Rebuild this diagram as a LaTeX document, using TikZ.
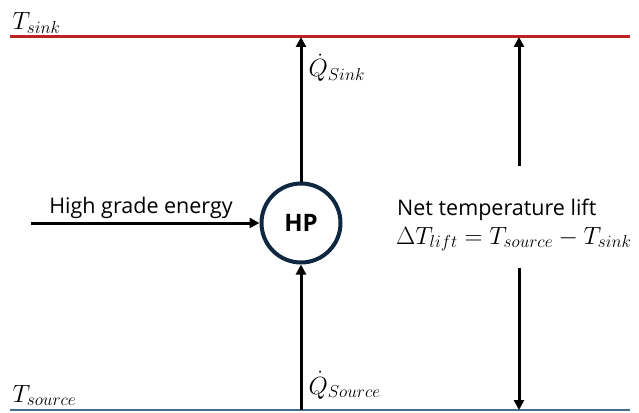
\documentclass[tikz,border=0pt]{standalone}
\usepackage{fontspec}
\setmainfont{Open Sans}
\usetikzlibrary{arrows.meta,positioning}
\definecolor{sinkred}{RGB}{192,34,34}
\definecolor{sourceblue}{RGB}{68,110,142}
\definecolor{hpnavy}{RGB}{14,40,65}

\begin{document}
\begin{tikzpicture}[x=1pt,y=-1pt,>={Triangle[length=10pt,width=10pt]},
 font=\fontsize{21.5}{26}\selectfont,
 flow/.style={->,line width=3pt},
 level/.style={line width=3pt},
 mathlbl/.style={font=\fontsize{25}{28}\selectfont}]
 \useasboundingbox (0,0) rectangle (639,412);
 % temperature levels
 \coordinate (sinkL) at (10,37); \coordinate (sinkR) at (630,37);
 \coordinate (srcL) at (10,410); \coordinate (srcR) at (630,410);
 \draw[level,sinkred] (sinkL)--(sinkR);
 \draw[level,sourceblue,line width=2pt] (srcL)--(srcR);
 \node[mathlbl,anchor=base west] (tsink) at (9,30) {$T_{sink}$};
 \node[mathlbl,anchor=base west] (tsource) at (9,402) {$T_{source}$};
 % heat pump
 \node[circle,draw=hpnavy,line width=4pt,minimum size=79pt,font=\fontsize{24}{28}\selectfont\bfseries] (hp) at (301,223) {HP};
 \draw[flow] (hp.north) -- (hp.north |- sinkL);
 \draw[flow] (hp.south |- srcL) -- (hp.south);
 \node[mathlbl,anchor=base west] (qsink) at (305,77) {$\dot Q_{Sink}$};
 \node[mathlbl,anchor=base west] (qsource) at (305,394) {$\dot Q_{Source}$};
 \coordinate (ein) at (31,223);
 \draw[flow] (ein) -- (hp.west);
 \node[anchor=base] (energy) at (141,213) {High grade energy};
 % lift
 \node[anchor=base west,inner sep=0pt] (lift) at (397,215) {Net temperature lift};
 \node[mathlbl,anchor=base west,inner sep=0pt] (lifteq) at (396,244) {$\Delta T_{lift}=T_{source}-T_{sink}$};
 \coordinate (lifttop) at (519,166); \coordinate (liftbot) at (519,268);
 \draw[flow] (lifttop) -- (lifttop |- sinkL);
 \draw[flow] (liftbot) -- (liftbot |- srcL);
\end{tikzpicture}
\end{document}
